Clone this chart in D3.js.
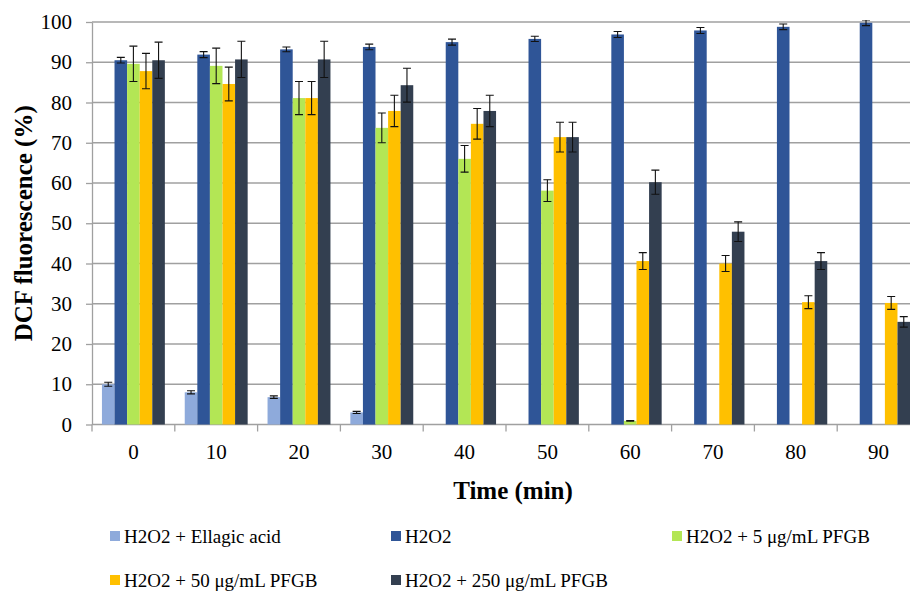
<!DOCTYPE html>
<html>
<head>
<meta charset="utf-8">
<script src="https://cdn.jsdelivr.net/npm/d3@7"></script>
<style>
  body { margin: 0; background: #fff; }
  svg { display: block; font-family: "Liberation Serif", "Times New Roman", serif; }
</style>
</head>
<body>
<div id="chart"></div>
<script>
// Time points (min)
const times = [0, 10, 20, 30, 40, 50, 60, 70, 80, 90];

// Series names
const seriesNames = [
    'H2O2 + Ellagic acid',
    'H2O2',
    'H2O2 + 5 μg/mL PFGB',
    'H2O2 + 50 μg/mL PFGB',
    'H2O2 + 250 μg/mL PFGB'
];
const seriesColors = ['#8eaadb', '#2f5597', '#b3e655', '#ffc000', '#333f50'];

// Means (% DCF fluorescence), null = no bar
const ellagic = [10.0, 8.0, 6.8, 3.0, null, null, null, null, null, null];
const h2o2 = [90.5, 91.9, 93.2, 93.8, 95.0, 95.8, 96.9, 97.9, 98.8, 99.8];
const pfgb5 = [89.6, 89.1, 81.1, 73.7, 66.0, 58.1, 0.9, null, null, null];
const pfgb50 = [87.8, 84.6, 81.1, 77.9, 74.7, 71.4, 40.6, 40.0, 30.4, 30.2];
const pfgb250 = [90.5, 90.7, 90.7, 84.3, 77.9, 71.4, 60.2, 47.9, 40.6, 25.5];

// Error (+/-)
const ellagicErr = [0.5, 0.4, 0.3, 0.25, null, null, null, null, null, null];
const h2o2Err = [0.7, 0.75, 0.6, 0.7, 0.75, 0.65, 0.75, 0.75, 0.7, 0.7];
const pfgb5Err = [4.4, 4.4, 4.1, 3.7, 3.3, 2.7, 0.1, null, null, null];
const pfgb50Err = [4.4, 4.2, 4.1, 3.9, 3.8, 3.7, 2.1, 2.0, 1.6, 1.6];
const pfgb250Err = [4.5, 4.5, 4.5, 4.2, 3.9, 3.7, 3.0, 2.45, 2.1, 1.3];

const yTicks = [0, 10, 20, 30, 40, 50, 60, 70, 80, 90, 100];

const allMeans = [ellagic, h2o2, pfgb5, pfgb50, pfgb250];
const allErrs = [ellagicErr, h2o2Err, pfgb5Err, pfgb50Err, pfgb250Err];

// Flatten into bar records
const bars = [];
times.forEach((t, i) => {
    seriesNames.forEach((s, j) => {
        if (allMeans[j][i] != null) {
            bars.push({ time: t, series: s, value: allMeans[j][i], err: allErrs[j][i], color: seriesColors[j] });
        }
    });
});

const svgWidth = 910;
const svgHeight = 591;
const plotLeft = 92, plotRight = 920, plotTop = 22, plotBottom = 424.5;

const svg = d3.select('#chart')
    .append('svg')
    .attr('width', svgWidth)
    .attr('height', svgHeight);

svg.append('rect').attr('width', svgWidth).attr('height', svgHeight).attr('fill', '#fff');

// Clip error bars to the plot area (top)
svg.append('clipPath').attr('id', 'plotClip')
    .append('rect')
    .attr('x', 0).attr('y', plotTop - 2)
    .attr('width', svgWidth).attr('height', plotBottom - plotTop + 2);

// Scales
const xScale = d3.scaleBand()
    .domain(times)
    .range([plotLeft, plotRight])
    .padding(0);
const xInner = d3.scaleBand()
    .domain(seriesNames)
    .range([0, xScale.bandwidth()])
    .paddingInner(0)
    .paddingOuter(0.79);
const yScale = d3.scaleLinear()
    .domain([0, 100])
    .range([plotBottom, plotTop]);

// Gridlines
svg.append('g')
    .selectAll('line')
    .data(yTicks.slice(1))
    .enter()
    .append('line')
    .attr('x1', plotLeft)
    .attr('x2', svgWidth)
    .attr('y1', d => yScale(d))
    .attr('y2', d => yScale(d))
    .attr('stroke', '#a0a0a0')
    .attr('stroke-width', 1.3);

// Y axis
const yAxis = svg.append('g')
    .attr('transform', `translate(${plotLeft},0)`)
    .call(d3.axisLeft(yScale).tickValues(yTicks).tickSize(6).tickPadding(14).tickSizeOuter(0));
yAxis.select('.domain').attr('stroke', '#a0a0a0').attr('stroke-width', 1.3);
yAxis.selectAll('.tick line').attr('stroke', '#a0a0a0').attr('stroke-width', 1.3);
yAxis.selectAll('.tick text')
    .attr('fill', '#000')
    .style('font-size', '21px')
    .style('font-family', '"Liberation Serif", serif');

// X axis (ticks at category boundaries)
const xAxisG = svg.append('g').attr('transform', `translate(0,${plotBottom})`);
xAxisG.append('line')
    .attr('x1', plotLeft).attr('x2', svgWidth)
    .attr('stroke', '#a0a0a0').attr('stroke-width', 1.3);
xAxisG.selectAll('.bound')
    .data(times)
    .enter()
    .append('line')
    .attr('class', 'bound')
    .attr('x1', d => xScale(d))
    .attr('x2', d => xScale(d))
    .attr('y1', 0)
    .attr('y2', 7)
    .attr('stroke', '#a0a0a0')
    .attr('stroke-width', 1.3);
xAxisG.selectAll('.lbl')
    .data(times)
    .enter()
    .append('text')
    .attr('class', 'lbl')
    .attr('x', d => xScale(d) + xScale.bandwidth() / 2)
    .attr('y', 34)
    .attr('text-anchor', 'middle')
    .style('font-size', '21px')
    .text(d => d);

// Bars
svg.append('g')
    .selectAll('rect')
    .data(bars)
    .enter()
    .append('rect')
    .attr('x', d => xScale(d.time) + xInner(d.series))
    .attr('y', d => yScale(d.value))
    .attr('width', xInner.bandwidth())
    .attr('height', d => yScale(0) - yScale(d.value))
    .attr('fill', d => d.color);

// Error bars
const eb = svg.append('g')
    .attr('clip-path', 'url(#plotClip)')
    .selectAll('g')
    .data(bars)
    .enter()
    .append('g')
    .attr('stroke', '#111')
    .attr('stroke-width', 1.1);
const cx = d => xScale(d.time) + xInner(d.series) + xInner.bandwidth() / 2;
eb.append('line')
    .attr('x1', cx).attr('x2', cx)
    .attr('y1', d => yScale(d.value + d.err))
    .attr('y2', d => yScale(d.value - d.err));
eb.append('line')
    .attr('x1', d => cx(d) - 4).attr('x2', d => cx(d) + 4)
    .attr('y1', d => yScale(d.value + d.err))
    .attr('y2', d => yScale(d.value + d.err));
eb.append('line')
    .attr('x1', d => cx(d) - 4).attr('x2', d => cx(d) + 4)
    .attr('y1', d => yScale(d.value - d.err))
    .attr('y2', d => yScale(d.value - d.err));

// Axis titles
svg.append('text')
    .attr('transform', `translate(32,${(plotTop + plotBottom) / 2}) rotate(-90)`)
    .attr('text-anchor', 'middle')
    .style('font-size', '25px')
    .style('font-weight', 'bold')
    .text('DCF fluorescence (%)');
svg.append('text')
    .attr('x', 513)
    .attr('y', 499)
    .attr('text-anchor', 'middle')
    .style('font-size', '25px')
    .style('font-weight', 'bold')
    .text('Time (min)');

// Legend
const legendPos = [[110, 536], [391, 536], [672, 536], [110, 580], [391, 580]];
const legend = svg.append('g')
    .selectAll('g')
    .data(seriesNames)
    .enter()
    .append('g')
    .attr('transform', (d, i) => `translate(${legendPos[i][0]},${legendPos[i][1]})`);
legend.append('rect')
    .attr('x', 0)
    .attr('y', -5)
    .attr('width', 10)
    .attr('height', 10)
    .attr('fill', (d, i) => seriesColors[i]);
legend.append('text')
    .attr('x', 14)
    .attr('y', 6.5)
    .style('font-size', '19px')
    .text(d => d);
</script>
</body>
</html>
